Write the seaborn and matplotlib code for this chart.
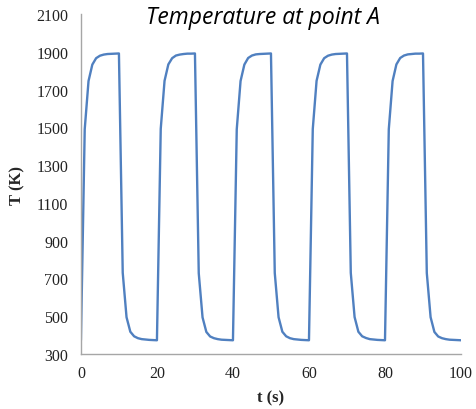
import numpy as np
import pandas as pd
import matplotlib
matplotlib.use("Agg")
import matplotlib.pyplot as plt
import seaborn as sns

# Time (s) and temperature at point A (K), sampled every second
time_s = list(range(0, 101))
temp_K = [
    373,
    1490, 1745, 1832, 1866, 1879, 1885, 1888, 1889, 1890, 1891,
    730, 495, 418, 394, 384, 379, 377, 375, 374, 373,
    1492, 1746, 1833, 1866, 1880, 1885, 1888, 1890, 1890, 1891,
    728, 494, 417, 393, 384, 379, 376, 375, 374, 373,
    1490, 1745, 1832, 1867, 1880, 1886, 1888, 1889, 1890, 1891,
    729, 495, 418, 394, 384, 379, 377, 375, 374, 373,
    1491, 1746, 1832, 1866, 1879, 1885, 1888, 1889, 1890, 1891,
    730, 496, 418, 394, 385, 379, 377, 375, 374, 373,
    1490, 1745, 1833, 1867, 1880, 1886, 1888, 1890, 1890, 1891,
    729, 495, 417, 393, 384, 379, 376, 375, 374, 373,
]
x_ticks = [0, 20, 40, 60, 80, 100]
y_ticks = [300, 500, 700, 900, 1100, 1300, 1500, 1700, 1900, 2100]

df = pd.DataFrame({"t": time_s, "T": temp_K})

sns.set_style("white")
plt.rcParams["font.family"] = ["Liberation Serif", "DejaVu Serif"]

fig = plt.figure(figsize=(4.76, 4.10), dpi=100)
ax = fig.add_axes([0.170, 0.134, 0.7985, 0.8295])

sns.lineplot(data=df, x="t", y="T", ax=ax, color="#5080c0", linewidth=1.7)

ax.set_xlim(0, 100)
ax.set_ylim(300, 2100)
ax.set_xticks(x_ticks)
ax.set_yticks(y_ticks)

for side in ("top", "right"):
    ax.spines[side].set_visible(False)
for side in ("left", "bottom"):
    ax.spines[side].set_color("#a6a6a6")
    ax.spines[side].set_linewidth(1.0)

ax.tick_params(axis="both", which="major", direction="out", length=4,
               width=1.0, color="#a6a6a6", labelsize=11.5, labelcolor="#222222",
               pad=5)
ax.tick_params(axis="x", pad=4)

ax.set_xlabel("t (s)", fontsize=12, fontweight="bold", labelpad=6)
ax.set_ylabel("T (K)", fontsize=12, fontweight="bold", labelpad=8)

fig.text(0.5525, 0.957, "Temperature at point A", fontsize=16.5,
         style="italic", family=["Open Sans", "DejaVu Sans"],
         ha="center", va="center", color="black")

fig.savefig("out.png", dpi=100)
